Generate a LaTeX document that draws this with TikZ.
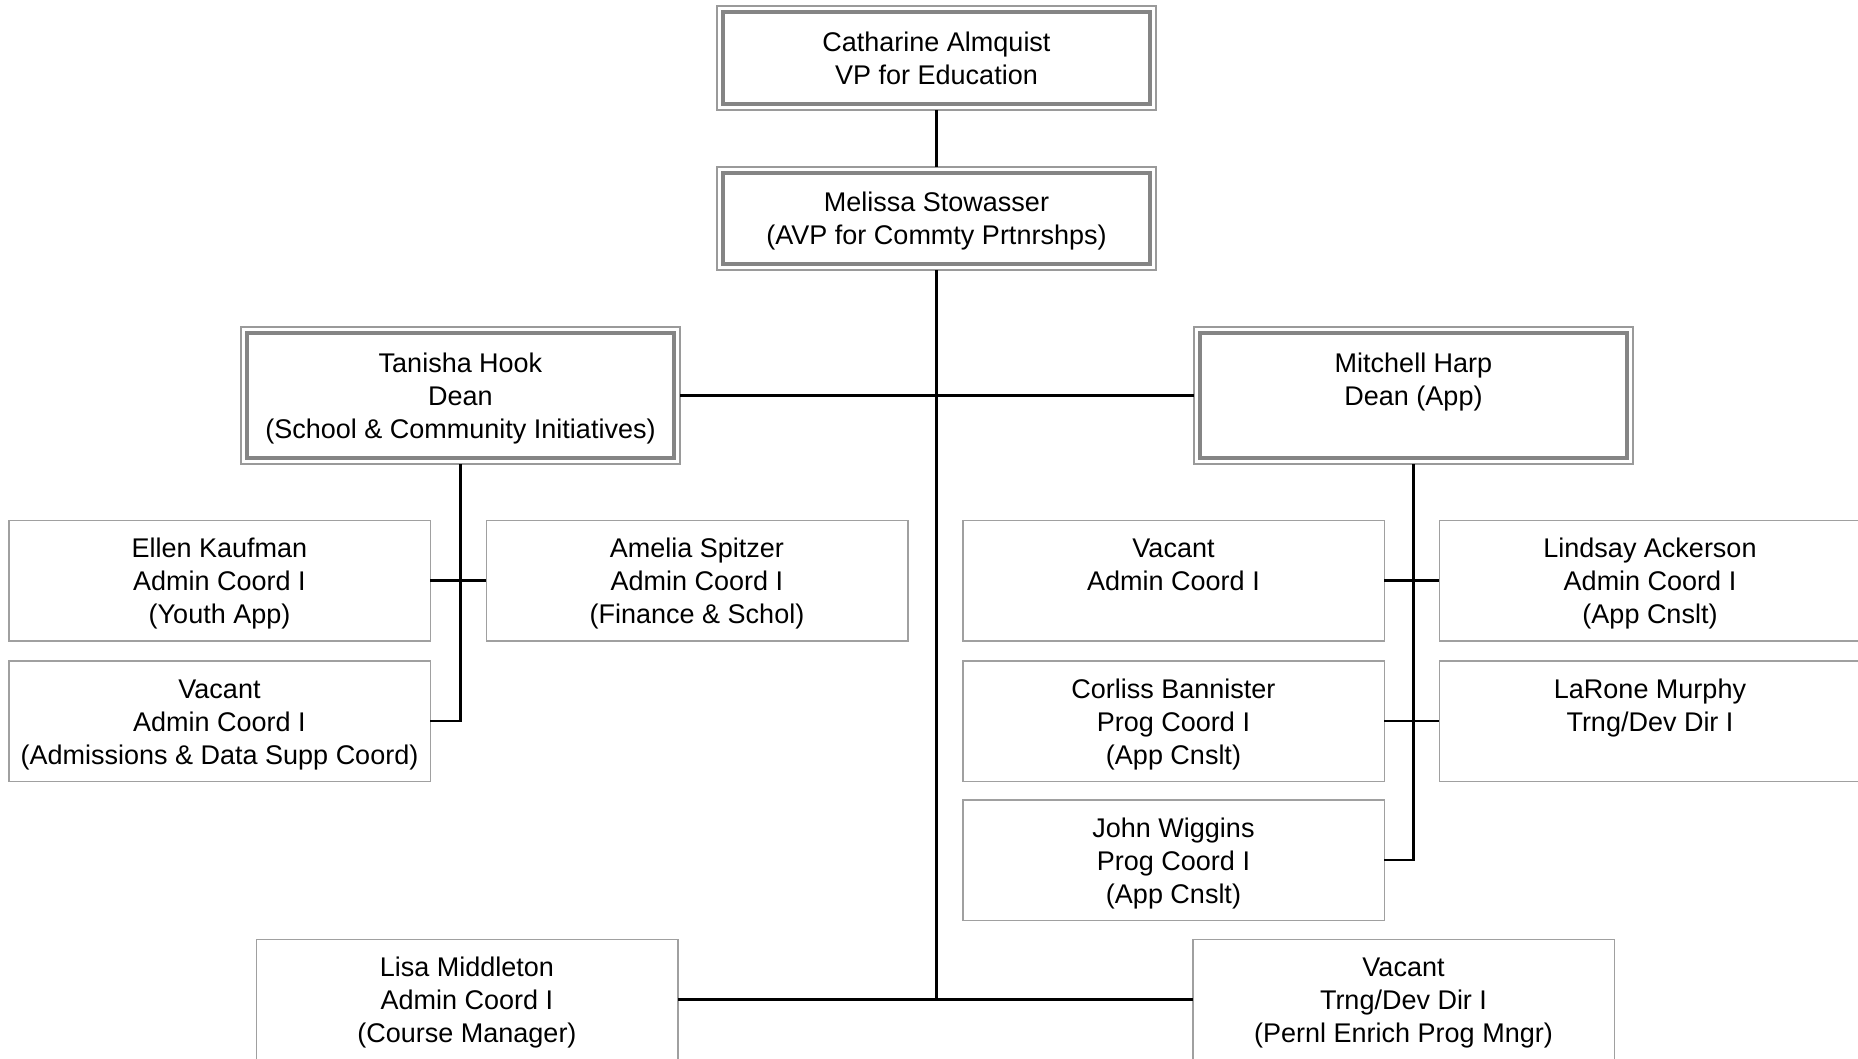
\documentclass[tikz,border=0pt]{standalone}
\usepackage{fontspec}
\setmainfont{Liberation Sans}
\definecolor{outergray}{HTML}{9A9A9A}
\definecolor{innergray}{HTML}{858585}
\definecolor{boxgray}{HTML}{A0A0A0}
\newcommand{\boxfont}{\fontsize{27}{33}\selectfont}
\newcommand{\tstr}{\rule{0pt}{26pt}}
\newcommand{\bstr}{\rule[-6pt]{0pt}{6pt}}
\tikzset{
  plainbox/.style={draw=boxgray, line width=1.5pt, minimum width=421.5pt, minimum height=120.5pt,
    inner sep=0pt, outer sep=0pt, align=center, font=\boxfont, fill=white},
  dblbox/.style={draw=outergray, line width=2pt, minimum width=439pt,
    inner sep=0pt, outer sep=0pt, align=center, font=\boxfont, fill=white},
  innerframe/.style={draw=innergray, line width=4pt},
  conn/.style={draw=black, line width=2.5pt}
}
\begin{document}
\begin{tikzpicture}[x=1pt,y=-1pt]
\useasboundingbox (0,0) rectangle (1858,1058);
\fill[white] (0,0) rectangle (1858,1058);
\clip (0,0) rectangle (1858,1058);

% level 1 and 2
\node[dblbox, minimum height=104pt] (A) at (936.5,58) {Catharine Almquist\\VP for Education};
\node[dblbox, minimum height=103pt] (B) at (936.5,218.5) {\rule{0pt}{24.5pt}Melissa Stowasser\\(AVP for Commty Prtnrshps)};
% deans
\node[dblbox, minimum height=137pt] (C) at (460.5,395.5) {\tstr Tanisha Hook\\Dean\\(School \& Community Initiatives)\bstr};
\node[dblbox, minimum height=137pt] (D) at (1413.5,395.5) {\tstr Mitchell Harp\\Dean (App)\\\bstr};

\foreach \n in {A,B,C,D}{
  \draw[innerframe] ([shift={(6,6)}]\n.north west) rectangle ([shift={(-6,-6)}]\n.south east);
}

% left group
\node[plainbox] (ellen) at (219.5,580.5) {\tstr Ellen Kaufman\\Admin Coord I\\(Youth App)\bstr};
\node[plainbox] (vacl) at (219.5,721) {\tstr Vacant\\Admin Coord I\\(Admissions \& Data Supp Coord)\bstr};
\node[plainbox] (amelia) at (697,580.5) {\tstr Amelia Spitzer\\Admin Coord I\\(Finance \& Schol)\bstr};

% right group
\node[plainbox] (vacr) at (1173.5,580.5) {\tstr Vacant\\Admin Coord I\\\bstr};
\node[plainbox] (lindsay) at (1650,580.5) {\tstr Lindsay Ackerson\\Admin Coord I\\(App Cnslt)\bstr};
\node[plainbox] (corliss) at (1173.5,721) {\tstr Corliss Bannister\\Prog Coord I\\(App Cnslt)\bstr};
\node[plainbox] (larone) at (1650,721) {\tstr LaRone Murphy\\Trng/Dev Dir I\\\bstr};
\node[plainbox] (john) at (1173.5,860) {\tstr John Wiggins\\Prog Coord I\\(App Cnslt)\bstr};

% bottom row
\node[plainbox] (lisa) at (467,999.5) {\tstr Lisa Middleton\\Admin Coord I\\(Course Manager)\bstr};
\node[plainbox] (vacb) at (1403.5,999.5) {\tstr Vacant\\Trng/Dev Dir I\\(Pernl Enrich Prog Mngr)\bstr};

% connectors
\draw[conn] (A.south) -- (B.north);
\draw[conn] (B.south) -- (B.south |- lisa.east);
\draw[conn] (lisa.east) -- (vacb.west);
\draw[conn] (C.east) -- (D.west);

\draw[conn] (C.south) -- (C.south |- vacl.east) -- (vacl.east);
\draw[conn] (ellen.east) -- (amelia.west);

\draw[conn] (D.south) -- (D.south |- john.east) -- (john.east);
\draw[conn] (vacr.east) -- (lindsay.west);
\draw[conn] (corliss.east) -- (larone.west);
\end{tikzpicture}
\end{document}
